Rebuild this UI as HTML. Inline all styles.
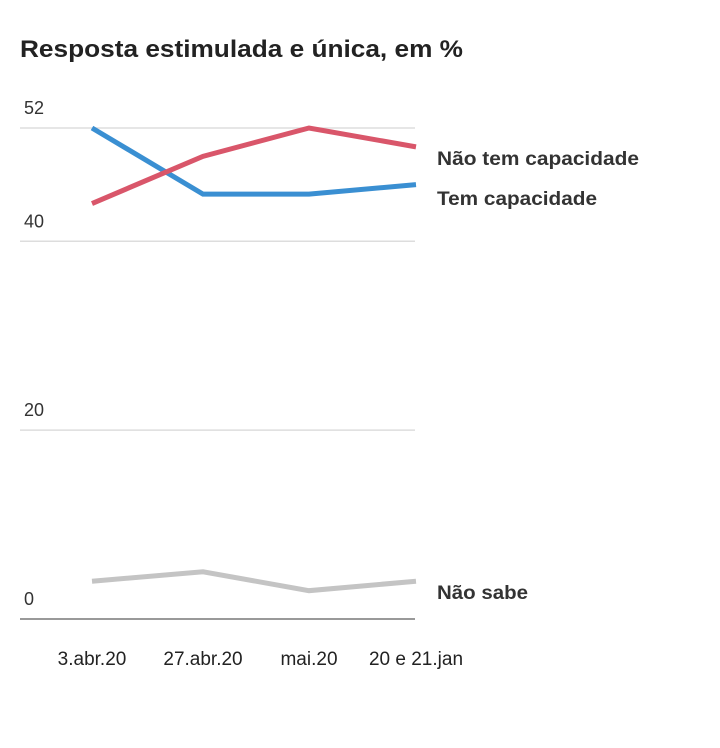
<!DOCTYPE html>
<html><head><meta charset="utf-8">
<style>
body{margin:0;background:#fff;width:720px;height:743px;overflow:hidden;font-family:"Liberation Sans","DejaVu Sans",sans-serif}
svg text{font-family:"Liberation Sans","DejaVu Sans",sans-serif}
</style></head>
<body>
<svg id="chart" width="720" height="743">
<text x="20" y="57" font-size="24" font-weight="bold" fill="#222" textLength="443" lengthAdjust="spacingAndGlyphs">Resposta estimulada e única, em %</text>
<g id="grid"></g><g id="lines"></g>
</svg>
<script>
const categories=["3.abr.20","27.abr.20","mai.20","20 e 21.jan"];
const seriesNames=["Não tem capacidade","Tem capacidade","Não sabe"];
const naoTem=[44,49,52,50];
const tem=[52,45,45,46];
const naoSabe=[4,5,3,4];
const ticks=[0,20,40,52];
const colors=["#d9566a","#3a8fd2","#c4c4c4"];
const labelY=[159,199,593];
const labelW=[202,160,91];
const NS="http://www.w3.org/2000/svg";
const y=v=>619-v*(491/52);
const xs=[92,203,309,416];
const x=i=>xs[i];
const g=document.getElementById('grid'),L=document.getElementById('lines');
ticks.forEach(t=>{
 const l=document.createElementNS(NS,'line');
 
 
 l.setAttribute('x1',20);l.setAttribute('x2',415);l.setAttribute('y1',y(t));l.setAttribute('y2',y(t));
 l.setAttribute('stroke',t===0?'#999':'#ddd');l.setAttribute('stroke-width',t===0?2:1.5);g.appendChild(l);
 const tx=document.createElementNS(NS,'text');
 
 
 tx.setAttribute('x',24);tx.setAttribute('y',y(t)-14);tx.setAttribute('font-size',18);tx.setAttribute('fill','#333');
 tx.textContent=t;g.appendChild(tx);
});
categories.forEach((c,i)=>{
 const tx=document.createElementNS(NS,'text');
 
 
 tx.setAttribute('x',x(i));tx.setAttribute('y',665);tx.setAttribute('font-size',19);tx.setAttribute('fill','#222');tx.setAttribute('text-anchor','middle');
 tx.textContent=c;g.appendChild(tx);
});
[naoSabe,tem,naoTem].forEach((s,k)=>{
 const idx=[2,1,0][k];
 const p=document.createElementNS(NS,'polyline');
 
 
 p.setAttribute('points',s.map((v,i)=>x(i)+','+y(v)).join(' '));
 p.setAttribute('fill','none');p.setAttribute('stroke',colors[idx]);p.setAttribute('stroke-width',5);
 L.appendChild(p);
});
seriesNames.forEach((n,i)=>{
 const tx=document.createElementNS(NS,'text');
 
 
 tx.setAttribute('x',437);tx.setAttribute('y',labelY[i]+6);tx.setAttribute('font-size',19);tx.setAttribute('font-weight','bold');tx.setAttribute('fill','#333');
 tx.setAttribute('textLength',labelW[i]);tx.setAttribute('lengthAdjust','spacingAndGlyphs');
 tx.textContent=n;L.appendChild(tx);
});
</script>
</body></html>
